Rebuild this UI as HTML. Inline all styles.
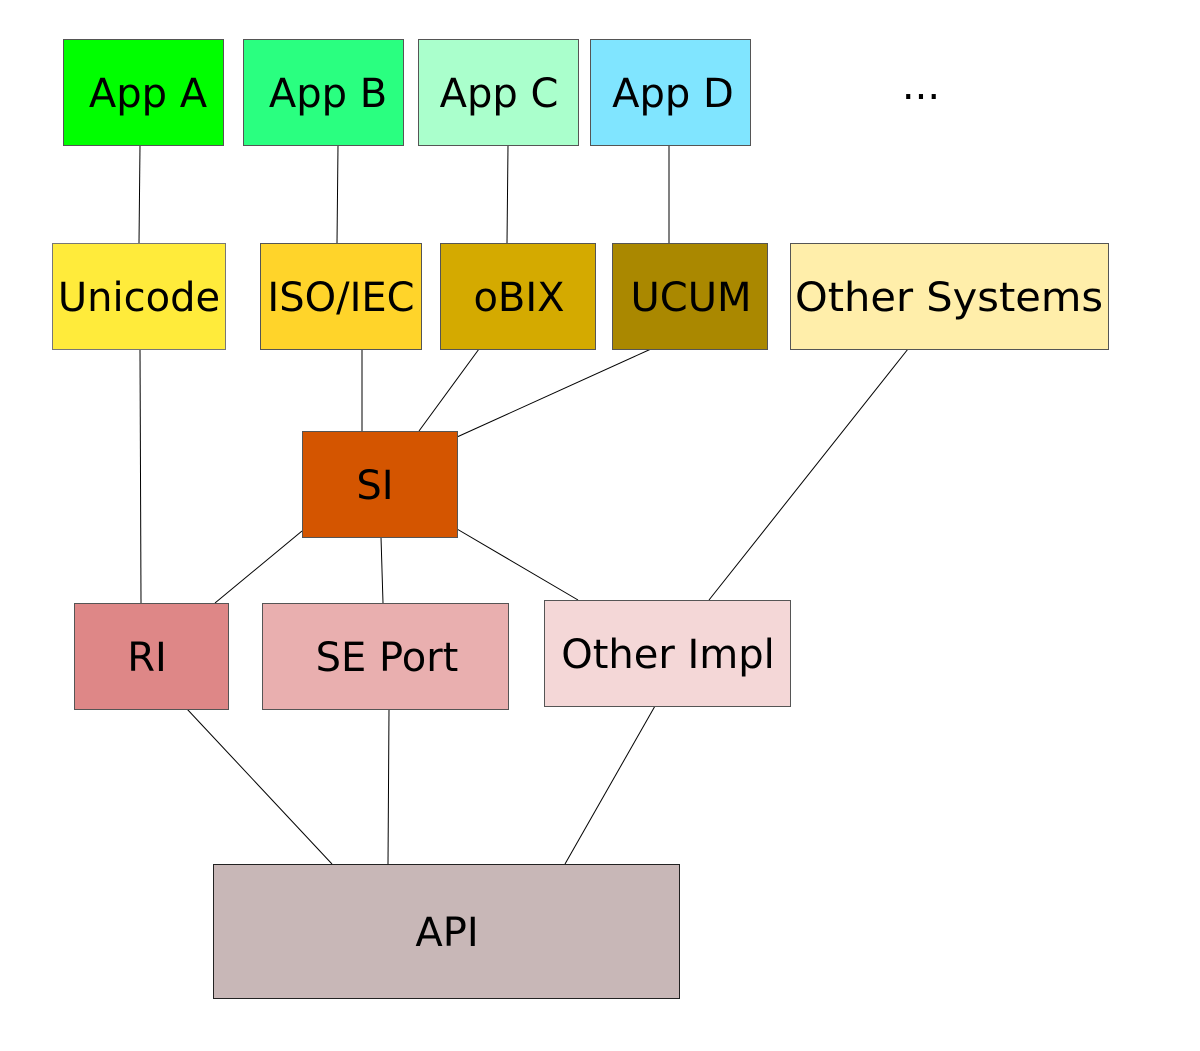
<!DOCTYPE html>
<html><head><meta charset="utf-8"><style>html,body{margin:0;padding:0;background:#fff}svg{display:block}</style></head>
<body>
<svg width="1200" height="1051" viewBox="0 0 1200 1051" xmlns="http://www.w3.org/2000/svg" font-family="DejaVu Sans, Liberation Sans, sans-serif" font-size="40" text-anchor="middle">
<g stroke="#000" stroke-width="1">
<line x1="140" y1="145" x2="139" y2="243"/>
<line x1="338" y1="145" x2="337" y2="243"/>
<line x1="508" y1="145" x2="507" y2="243"/>
<line x1="669" y1="145" x2="669" y2="243"/>
<line x1="140" y1="349" x2="141" y2="603"/>
<line x1="362" y1="349" x2="362" y2="431"/>
<line x1="479" y1="349" x2="419" y2="431"/>
<line x1="651" y1="349" x2="457" y2="437"/>
<line x1="908" y1="349" x2="709" y2="600"/>
<line x1="302" y1="531" x2="215" y2="603"/>
<line x1="381" y1="537" x2="383" y2="603"/>
<line x1="457" y1="529" x2="578" y2="600"/>
<line x1="187" y1="709" x2="332" y2="864"/>
<line x1="389" y1="709" x2="388" y2="864"/>
<line x1="655" y1="706" x2="565" y2="864"/>
</g>
<g stroke="#555" stroke-width="1">
<rect x="63.5" y="39.5" width="160" height="106" fill="#00ff00"/>
<rect x="243.5" y="39.5" width="160" height="106" fill="#2aff80"/>
<rect x="418.5" y="39.5" width="160" height="106" fill="#aaffcc"/>
<rect x="590.5" y="39.5" width="160" height="106" fill="#80e5ff"/>
<rect x="52.5" y="243.5" width="173" height="106" fill="#ffeb3b" stroke="#777"/>
<rect x="260.5" y="243.5" width="161" height="106" fill="#ffd42a"/>
<rect x="440.5" y="243.5" width="155" height="106" fill="#d4aa00"/>
<rect x="612.5" y="243.5" width="155" height="106" fill="#aa8800"/>
<rect x="790.5" y="243.5" width="318" height="106" fill="#ffeeaa"/>
<rect x="302.5" y="431.5" width="155" height="106" fill="#d45500"/>
<rect x="74.5" y="603.5" width="154" height="106" fill="#de8787"/>
<rect x="262.5" y="603.5" width="246" height="106" fill="#e9afaf"/>
<rect x="544.5" y="600.5" width="246" height="106" fill="#f4d7d7"/>
<rect x="213.5" y="864.5" width="466" height="134" fill="#c8b7b7" stroke="#222"/>
</g>
<g fill="#000">
<text x="148" y="107">App A</text>
<text x="328" y="107">App B</text>
<text x="499" y="107">App C</text>
<text x="673" y="107">App D</text>
<text x="921" y="99">...</text>
<text x="139" y="311">Unicode</text>
<text x="341" y="311">ISO/IEC</text>
<text x="519" y="311">oBIX</text>
<text x="691" y="311">UCUM</text>
<text x="949" y="311" textLength="308" lengthAdjust="spacingAndGlyphs">Other Systems</text>
<text x="375" y="499">SI</text>
<text x="147" y="671">RI</text>
<text x="387" y="671">SE Port</text>
<text x="668" y="668">Other Impl</text>
<text x="447" y="946">API</text>
</g>
</svg>
</body></html>
